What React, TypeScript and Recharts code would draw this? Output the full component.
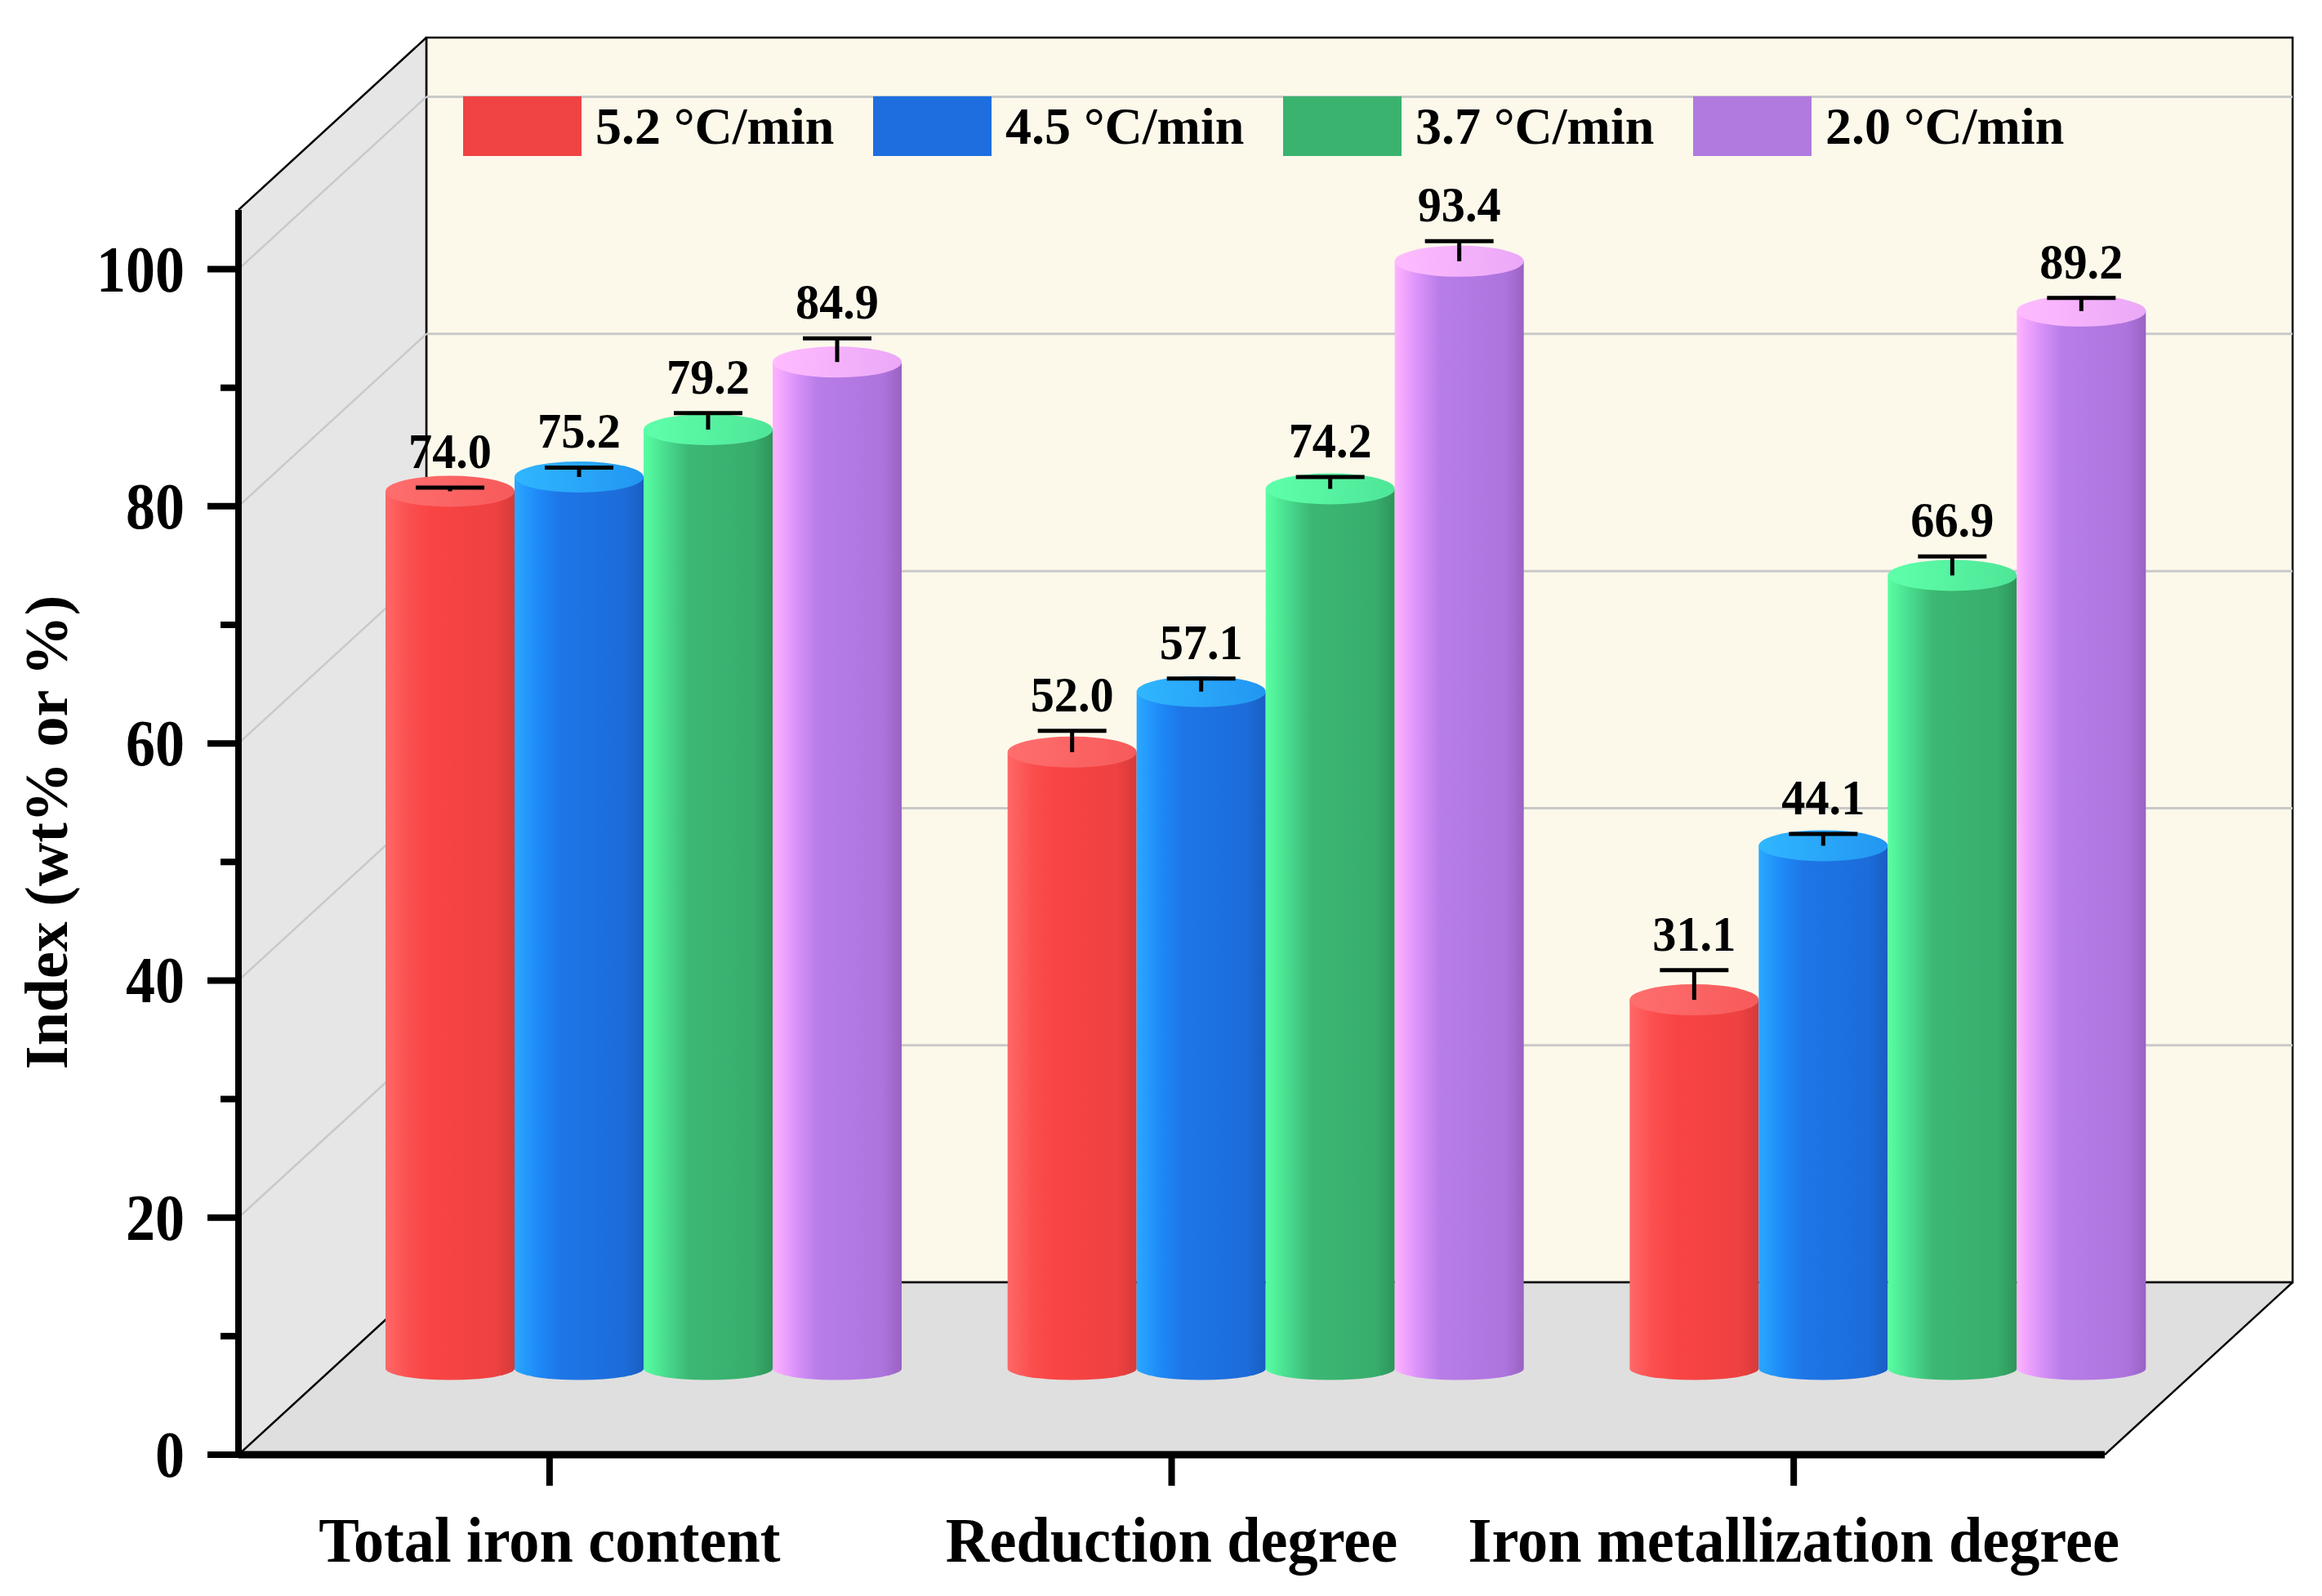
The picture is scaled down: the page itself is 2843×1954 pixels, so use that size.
import React from 'react';
import { BarChart, Bar, XAxis, YAxis, ReferenceArea, ReferenceLine, Legend } from 'recharts';

// ---------- data ----------
const categories = ['Total iron content', 'Reduction degree', 'Iron metallization degree'];
const seriesNames = ['5.2 °C/min', '4.5 °C/min', '3.7 °C/min', '2.0 °C/min'];
const rate52 = [74.0, 52.0, 31.1];
const rate45 = [75.2, 57.1, 44.1];
const rate37 = [79.2, 74.2, 66.9];
const rate20 = [84.9, 93.4, 89.2];
const err52 = [0.3, 1.8, 2.5];
const err45 = [0.8, 1.1, 1.0];
const err37 = [1.4, 1.0, 1.6];
const err20 = [2.0, 1.7, 1.1];
const yTicks = [0, 10, 20, 30, 40, 50, 60, 70, 80, 90, 100];
const gridValues = [20, 40, 60, 80, 100];
const yDomain = [0, 105];

const data = categories.map((c, i) => ({
  category: c,
  s0: rate52[i], e0: err52[i],
  s1: rate45[i], e1: err45[i],
  s2: rate37[i], e2: err37[i],
  s3: rate20[i], e3: err20[i],
}));

// ---------- styles ----------
const FONT = "'Liberation Serif', 'Times New Roman', serif";
const DX = 230; // full depth offset x
const DY = 211; // full depth offset y
const BX = DX / 2; // bars at mid-depth
const BY = DY / 2;

const SERIES = [
  {
    key: 's0', errKey: 'e0', legend: '#F04343',
    top: ['#FF6E6E', '#F75A5A'],
    body: [['0', '#FF6868'], ['0.18', '#FB4F4F'], ['0.35', '#F94444'], ['0.85', '#EE4141'], ['1', '#D63A3A']],
  },
  {
    key: 's1', errKey: 'e1', legend: '#1E6EE0',
    top: ['#30B6FF', '#2296F2'],
    body: [['0', '#2AA8FF'], ['0.18', '#1E8AF8'], ['0.35', '#1E76E6'], ['0.85', '#1C6CDA'], ['1', '#1A5EC2']],
  },
  {
    key: 's2', errKey: 'e2', legend: '#3AB36E',
    top: ['#5EFFAB', '#4EE697'],
    body: [['0', '#58FFA2'], ['0.18', '#48DA8E'], ['0.35', '#3CB874'], ['0.85', '#38AD6C'], ['1', '#2E955A']],
  },
  {
    key: 's3', errKey: 'e3', legend: '#B07ADF',
    top: ['#FFBBFF', '#EAA8F7'],
    body: [['0', '#FFB3FF'], ['0.18', '#DA92FA'], ['0.35', '#B87DE8'], ['0.85', '#AE74DE'], ['1', '#9A62C2']],
  },
];

function makeCylinder(si: number) {
  const st = SERIES[si];
  return (props: any) => {
    const { x, y, width, height, payload, index } = props;
    const value = payload[st.key];
    const err = payload[st.errKey];
    if (!(height > 0) || !value) return <g />;
    const ppu = height / value;
    const x0 = x + BX;
    const x1 = x0 + width;
    const cx = x0 + width / 2;
    const rx = width / 2;
    const top = y - BY;
    const base = y + height - BY;
    const ryTop = 19;
    const ryBot = 14;
    const capY = top - err * ppu;
    const gid = `cyl-body-${si}-${index}`;
    const tid = `cyl-top-${si}-${index}`;
    return (
      <g>
        <defs>
          <linearGradient id={gid} x1="0" y1="0" x2="1" y2="0">
            {st.body.map(([o, c]) => (
              <stop key={o} offset={o} stopColor={c} />
            ))}
          </linearGradient>
          <linearGradient id={tid} x1="0" y1="0" x2="1" y2="0">
            <stop offset="0" stopColor={st.top[0]} />
            <stop offset="1" stopColor={st.top[1]} />
          </linearGradient>
        </defs>
        <path
          d={`M ${x0} ${top} L ${x0} ${base} A ${rx} ${ryBot} 0 0 0 ${x1} ${base} L ${x1} ${top} Z`}
          fill={`url(#${gid})`}
        />
        <ellipse cx={cx} cy={top} rx={rx} ry={ryTop} fill={`url(#${tid})`} />
        <line x1={cx} x2={cx} y1={top} y2={capY} stroke="#000" strokeWidth={5} />
        <line x1={cx - 42} x2={cx + 42} y1={capY} y2={capY} stroke="#000" strokeWidth={5} />
        <g transform={`translate(${cx} ${capY - 24}) scale(0.94 1)`}>
          <text
            x={0}
            y={0}
            textAnchor="middle"
            fontFamily={FONT}
            fontWeight="bold"
            fontSize={62}
            fill="#000"
          >
            {value.toFixed(1)}
          </text>
        </g>
      </g>
    );
  };
}

const BoxShape = (props: any) => {
  const { x, y, width: w, height: h } = props;
  const b = y + h;
  return (
    <g>
      {/* back wall */}
      <rect x={x + DX} y={y - DY} width={w} height={h} fill="#FCF9EB" stroke="#000" strokeWidth={2.5} />
      {/* left wall */}
      <polygon
        points={`${x},${b} ${x},${y} ${x + DX},${y - DY} ${x + DX},${b - DY}`}
        fill="#E6E6E6"
      />
      {/* floor */}
      <polygon
        points={`${x},${b} ${x + w},${b} ${x + w + DX},${b - DY} ${x + DX},${b - DY}`}
        fill="#DFDFDF"
      />
      <line x1={x} y1={y} x2={x + DX} y2={y - DY} stroke="#000" strokeWidth={2.5} />
      <line x1={x} y1={b} x2={x + DX} y2={b - DY} stroke="#000" strokeWidth={2.5} />
      <line x1={x + w} y1={b} x2={x + w + DX} y2={b - DY} stroke="#000" strokeWidth={2.5} />
      <line x1={x + DX} y1={y - DY} x2={x + DX} y2={b - DY} stroke="#000" strokeWidth={2.5} />
      <line x1={x + DX} y1={b - DY} x2={x + w + DX} y2={b - DY} stroke="#000" strokeWidth={2.5} />
    </g>
  );
};

const GridShape = (props: any) => {
  const { x1, y1, x2 } = props;
  return (
    <g>
      <line x1={x1} y1={y1} x2={x1 + DX} y2={y1 - DY} stroke="#C9C9C9" strokeWidth={2.5} />
      <line x1={x1 + DX} y1={y1 - DY} x2={x2 + DX} y2={y1 - DY} stroke="#C9C9C9" strokeWidth={3} />
    </g>
  );
};

const YTick = (props: any) => {
  const { x, y, payload } = props;
  const v = payload.value;
  const major = v % 20 === 0;
  return (
    <g>
      <line x1={x - (major ? 38 : 22)} x2={x} y1={y} y2={y} stroke="#000" strokeWidth={8} />
      {major && (
        <g transform={`translate(${x - 66} ${y + 27}) scale(0.9 1)`}>
          <text
            x={0}
            y={0}
            textAnchor="end"
            fontFamily={FONT}
            fontWeight="bold"
            fontSize={80}
            fill="#000"
          >
            {v}
          </text>
        </g>
      )}
    </g>
  );
};

const XTick = (props: any) => {
  const { x, y, payload } = props;
  return (
    <g>
      <line x1={x} x2={x} y1={y} y2={y + 38} stroke="#000" strokeWidth={8} />
      <g transform={`translate(${x} ${y + 131}) scale(0.94 1)`}>
        <text
          x={0}
          y={0}
          textAnchor="middle"
          fontFamily={FONT}
          fontWeight="bold"
          fontSize={79}
          fill="#000"
        >
          {payload.value}
        </text>
      </g>
    </g>
  );
};

const YTitle = (props: any) => {
  const vb = props.viewBox || {};
  const bx = (vb.x ?? 42) + 40;
  const cy = (vb.y ?? 257) + (vb.height ?? 1524) / 2;
  return (
    <text
      x={bx}
      y={cy}
      transform={`rotate(-90 ${bx} ${cy})`}
      textAnchor="middle"
      fontFamily={FONT}
      fontWeight="bold"
      fontSize={74}
      fill="#000"
    >
      Index (wt% or %)
    </text>
  );
};

const LegendContent = (props: any) => {
  const payload = [...(props.payload || [])].sort(
    (a: any, b: any) => seriesNames.indexOf(a.value) - seriesNames.indexOf(b.value)
  );
  return (
    <div style={{ display: 'flex', fontFamily: FONT, fontWeight: 'bold', fontSize: 64, color: '#000' }}>
      {payload.map((e: any, i: number) => (
        <div key={i} style={{ display: 'flex', alignItems: 'center', width: 502 }}>
          <div style={{ width: 145, height: 73, background: e.color }} />
          <span style={{ marginLeft: 17, lineHeight: 1, whiteSpace: 'nowrap' }}>{e.value}</span>
        </div>
      ))}
    </div>
  );
};

export default function App() {
  return (
    <div style={{ position: 'absolute', left: 0, top: 0, width: 2843, height: 1954, background: '#fff' }}>
      <BarChart
        width={2843}
        height={1954}
        data={data}
        margin={{ top: 257, right: 266, bottom: 23, left: 42 }}
        barCategoryGap={65}
        barGap={0}
      >
        <ReferenceArea y1={0} y2={105} ifOverflow="visible" shape={BoxShape} zIndex={10} />
        {gridValues.map((v) => (
          <ReferenceLine key={v} y={v} ifOverflow="visible" shape={GridShape} zIndex={20} />
        ))}
        <XAxis
          dataKey="category"
          tickSize={0}
          tickMargin={0}
          height={150}
          axisLine={{ stroke: '#000', strokeWidth: 9 }}
          tickLine={false}
          tick={XTick}
          interval={0}
        />
        <YAxis
          type="number"
          domain={yDomain}
          ticks={yTicks}
          interval={0}
          width={250}
          tickSize={0}
          tickMargin={0}
          axisLine={{ stroke: '#000', strokeWidth: 8 }}
          tickLine={false}
          tick={YTick}
          label={{ content: YTitle }}
        />
        <Legend
          layout="horizontal"
          verticalAlign="middle"
          align="center"
          itemSorter="dataKey"
          content={LegendContent}
          wrapperStyle={{ top: 118, left: 567, width: 'auto', height: 'auto' }}
        />
        {SERIES.map((s, i) => (
          <Bar
            key={s.key}
            dataKey={s.key}
            name={seriesNames[i]}
            fill={s.legend}
            isAnimationActive={false}
            shape={makeCylinder(i)}
          />
        ))}
      </BarChart>
    </div>
  );
}
